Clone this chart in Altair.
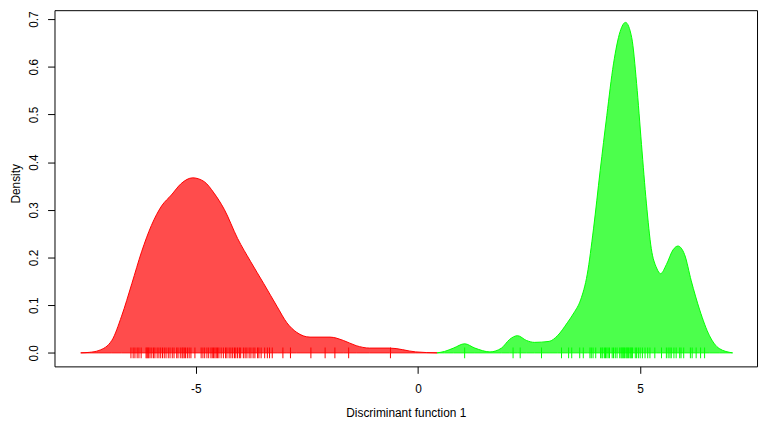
import altair as alt
import pandas as pd

# Density curve of group 1 (red)
red_x = [-7.59, -7.40, -7.18, -6.89, -6.67, -6.44, -6.22, -6.00, -5.77, -5.55, -5.33,
         -5.07, -4.81, -4.59, -4.36, -4.06, -3.77, -3.47, -3.17, -2.95, -2.73, -2.43,
         -1.98, -1.68, -1.39, -1.09, -0.64, -0.05, 0.43]
red_y = [0.0, 0.001, 0.005, 0.026, 0.077, 0.145, 0.212, 0.267, 0.308, 0.331, 0.355,
         0.367, 0.359, 0.335, 0.301, 0.240, 0.192, 0.145, 0.097, 0.063, 0.043, 0.033,
         0.033, 0.026, 0.015, 0.010, 0.010, 0.002, 0.0]

# Density curve of group 2 (green)
green_x = [0.43, 0.60, 0.80, 1.05, 1.28, 1.62, 1.88, 2.06, 2.24, 2.44, 2.62, 2.95,
           3.14, 3.36, 3.51, 3.66, 3.81, 3.95, 4.10, 4.25, 4.40, 4.55, 4.67, 4.81,
           4.92, 5.03, 5.14, 5.25, 5.37, 5.46, 5.59, 5.74, 5.85, 6.00, 6.15, 6.34,
           6.56, 6.78, 7.08]
green_y = [0.0, 0.003, 0.010, 0.019, 0.010, 0.002, 0.010, 0.028, 0.036, 0.026, 0.022,
           0.024, 0.036, 0.063, 0.084, 0.111, 0.165, 0.260, 0.382, 0.498, 0.606, 0.674,
           0.693, 0.661, 0.565, 0.437, 0.314, 0.219, 0.178, 0.166, 0.185, 0.216, 0.224,
           0.206, 0.151, 0.090, 0.036, 0.009, 0.0]

# Rug: individual discriminant scores
red_rug = [-6.46, -6.41, -6.37, -6.32, -6.28, -6.23, -6.12, -6.10, -6.08, -6.06, -6.03,
           -5.99, -5.95, -5.92, -5.87, -5.83, -5.79, -5.75, -5.71, -5.67, -5.62, -5.58,
           -5.53, -5.49, -5.43, -5.40, -5.35, -5.31, -5.29, -5.26, -5.23, -5.19, -5.15,
           -5.11, -5.02, -4.88, -4.84, -4.80, -4.75, -4.71, -4.66, -4.63, -4.60, -4.57,
           -4.54, -4.51, -4.48, -4.43, -4.38, -4.33, -4.30, -4.25, -4.21, -4.17, -4.13,
           -4.10, -4.06, -4.02, -3.99, -3.93, -3.89, -3.85, -3.80, -3.76, -3.71, -3.67,
           -3.61, -3.58, -3.53, -3.45, -3.39, -3.34, -3.28, -3.04, -2.87, -2.41, -2.09,
           -1.87, -1.56, -0.62]
green_rug = [1.05, 2.14, 2.30, 2.78, 3.23, 3.39, 3.46, 3.64, 3.72, 3.87, 3.90, 3.94,
             4.00, 4.11, 4.14, 4.16, 4.20, 4.22, 4.25, 4.28, 4.31, 4.37, 4.40, 4.44,
             4.48, 4.54, 4.57, 4.59, 4.61, 4.63, 4.65, 4.68, 4.70, 4.72, 4.74, 4.77,
             4.79, 4.81, 4.83, 4.89, 4.92, 4.96, 5.00, 5.05, 5.11, 5.17, 5.22, 5.33,
             5.48, 5.59, 5.63, 5.67, 5.70, 5.76, 5.81, 5.89, 5.92, 5.98, 6.13, 6.17,
             6.26, 6.36, 6.45]

x_ticks = [-5, 0, 5]
y_ticks = [0.0, 0.1, 0.2, 0.3, 0.4, 0.5, 0.6, 0.7]

red_df = pd.DataFrame({"x": red_x, "y": red_y})
green_df = pd.DataFrame({"x": green_x, "y": green_y})
red_rug_df = pd.DataFrame({"x": red_rug})
green_rug_df = pd.DataFrame({"x": green_rug})

FONT = "Liberation Sans"

xscale = alt.Scale(domain=[-8.18, 7.63], nice=False, zero=False)
yscale = alt.Scale(domain=[-0.0284, 0.7186], nice=False, zero=False)

xaxis = alt.Axis(values=x_ticks, labelExpr="'' + datum.value", title="Discriminant function 1",
                 domain=False, grid=False, tickSize=7, tickColor="#000",
                 labelColor="#000", labelFontSize=12, labelFont=FONT,
                 labelBaseline="alphabetic", labelPadding=19,
                 titleFont=FONT, titleFontSize=12, titleFontWeight="normal",
                 titleColor="#000", titleBaseline="alphabetic", titleY=51)
yaxis = alt.Axis(values=y_ticks, format=".1f", title="Density",
                 domain=False, grid=False, tickSize=7, tickColor="#000",
                 labelColor="#000", labelFontSize=12, labelFont=FONT,
                 labelAngle=270, labelAlign="center", labelBaseline="alphabetic",
                 labelPadding=10,
                 titleFont=FONT, titleFontSize=12, titleFontWeight="normal",
                 titleColor="#000", titleAngle=270, titleAlign="center",
                 titleBaseline="alphabetic", titleX=-35, titleY=175)

red_area = alt.Chart(red_df).mark_area(
    fill="#FF0000", fillOpacity=0.7, stroke="#FF0000", strokeWidth=1,
    interpolate="monotone"
).encode(
    x=alt.X("x:Q", scale=xscale, axis=xaxis),
    y=alt.Y("y:Q", scale=yscale, axis=yaxis),
    y2=alt.datum(0),
)

green_area = alt.Chart(green_df).mark_area(
    fill="#00FF00", fillOpacity=0.7, stroke="#00FF00", strokeWidth=1,
    interpolate="monotone"
).encode(
    x=alt.X("x:Q", scale=xscale),
    y=alt.Y("y:Q", scale=yscale),
    y2=alt.datum(0),
)

red_ticks = alt.Chart(red_rug_df).mark_tick(
    color="#FF0000", thickness=1, size=11, orient="vertical", opacity=1
).encode(x=alt.X("x:Q", scale=xscale), y=alt.datum(0))

green_ticks = alt.Chart(green_rug_df).mark_tick(
    color="#00FF00", thickness=1, size=11, orient="vertical", opacity=1
).encode(x=alt.X("x:Q", scale=xscale), y=alt.datum(0))

chart = alt.layer(red_area, green_area, red_ticks, green_ticks).properties(
    width=710, height=360,
    autosize=alt.AutoSizeParams(type="none"),
    padding={"left": 47, "top": 0, "right": 2, "bottom": 55},
    background="white",
).configure_view(stroke="#000", strokeWidth=1)

chart.save("out.html", embed_options={"renderer": "svg", "actions": False})
